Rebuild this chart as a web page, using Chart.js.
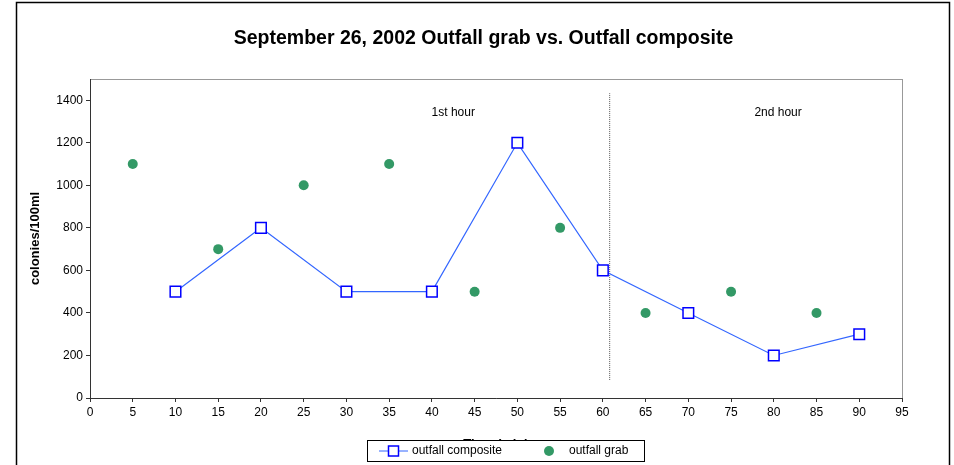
<!DOCTYPE html>
<html>
<head>
<meta charset="utf-8">
<script src="https://cdn.jsdelivr.net/npm/chart.js@4.4.1/dist/chart.umd.min.js"></script>
<style>
  html, body { margin: 0; padding: 0; background: #fff; }
  #wrap { width: 954px; height: 465px; }
</style>
</head>
<body>
<div id="wrap"><canvas id="chart" width="954" height="465"></canvas></div>
<script>
// data
const compositeMinutes = [10, 20, 30, 40, 50, 60, 70, 80, 90];
const compositeValues = [500, 800, 500, 500, 1200, 600, 400, 200, 300];
const grabMinutes = [5, 15, 25, 35, 45, 55, 65, 75, 85];
const grabValues = [1100, 700, 1000, 1100, 500, 800, 400, 500, 400];

// dotted divider between the two hours
const dividerX = [60.8, 60.8];
const dividerY = [85, 1433];

const hourLabels = ['1st hour', '2nd hour'];
const hourLabelX = [42.5, 80.5];
const hourLabelY = [1340, 1340];

const xTickStep = 5;
const yTickStep = 200;
const yTickMax = 1400;

const FONT = "'Liberation Sans', Arial, sans-serif";

function toPoints(xs, ys) {
    return xs.map((x, i) => ({ x: x, y: ys[i] }));
}

// title, outer frame, plot frame, hour labels and the boxed legend
const decorPlugin = {
    id: 'decor',
    beforeDraw(chart) {
        const { ctx, chartArea: a } = chart;
        ctx.save();
        ctx.fillStyle = '#fff';
        ctx.fillRect(0, 0, chart.width, chart.height);
        ctx.strokeStyle = '#000';
        ctx.lineWidth = 1.5;
        ctx.strokeRect(16.5, 2.5, 933, 480);
        ctx.strokeStyle = '#999';
        ctx.lineWidth = 1;
        ctx.strokeRect(Math.round(a.left) + 0.5, Math.round(a.top) + 0.5, Math.round(a.right - a.left), Math.round(a.bottom - a.top));
        ctx.restore();
    },
    afterDraw(chart) {
        const { ctx } = chart;
        const xs = chart.scales.x, ys = chart.scales.y;
        ctx.save();
        ctx.fillStyle = '#000';
        ctx.textAlign = 'center';
        ctx.textBaseline = 'middle';
        ctx.font = 'bold 19.5px ' + FONT;
        ctx.fillText('September 26, 2002 Outfall grab vs. Outfall composite', 483.5, 39);

        ctx.font = '12px ' + FONT;
        hourLabels.forEach((t, i) => {
            ctx.fillText(t, xs.getPixelForValue(hourLabelX[i]), ys.getPixelForValue(hourLabelY[i]));
        });

        // legend box, drawn over the x axis title like the original
        const lx = 367, ly = 440, lw = 277, lh = 21;
        ctx.fillStyle = '#fff';
        ctx.fillRect(lx, ly, lw, lh);
        ctx.strokeStyle = '#000';
        ctx.lineWidth = 1;
        ctx.strokeRect(lx + 0.5, ly + 0.5, lw, lh);
        const cy = ly + lh / 2 + 0.5;
        ctx.strokeStyle = '#3366ff';
        ctx.beginPath();
        ctx.moveTo(379, cy);
        ctx.lineTo(408, cy);
        ctx.stroke();
        ctx.fillStyle = '#fff';
        ctx.strokeStyle = '#0000ff';
        ctx.lineWidth = 1.5;
        ctx.fillRect(388.5, cy - 5, 10, 10);
        ctx.strokeRect(388.5, cy - 5, 10, 10);
        ctx.fillStyle = '#339966';
        ctx.beginPath();
        ctx.arc(549, cy, 5, 0, Math.PI * 2);
        ctx.fill();
        ctx.fillStyle = '#000';
        ctx.textAlign = 'left';
        ctx.font = '12px ' + FONT;
        ctx.fillText('outfall composite', 412, cy);
        ctx.fillText('outfall grab', 569, cy);
        ctx.restore();
    }
};

new Chart(document.getElementById('chart'), {
    type: 'scatter',
    data: {
        datasets: [
            {
                label: 'outfall composite',
                data: toPoints(compositeMinutes, compositeValues),
                showLine: true,
                borderColor: '#3366ff',
                borderWidth: 1.2,
                pointStyle: 'rect',
                pointRadius: 7.5,
                pointBorderColor: '#0000ff',
                pointBackgroundColor: '#ffffff',
                pointBorderWidth: 1.5,
                order: 1
            },
            {
                label: 'outfall grab',
                data: toPoints(grabMinutes, grabValues),
                showLine: false,
                pointStyle: 'circle',
                pointRadius: 5,
                pointBorderWidth: 0,
                pointBackgroundColor: '#339966',
                order: 0
            },
            {
                label: 'divider',
                data: toPoints(dividerX, dividerY),
                showLine: true,
                borderColor: '#555',
                borderWidth: 1,
                borderDash: [1, 1],
                pointRadius: 0,
                order: 2
            }
        ]
    },
    options: {
        responsive: false,
        animation: false,
        layout: { padding: { left: 16, right: 52, top: 79, bottom: 0 } },
        plugins: {
            legend: { display: false },
            title: { display: false },
            tooltip: { enabled: false }
        },
        scales: {
            x: {
                type: 'linear',
                min: 0,
                max: 95,
                afterFit: s => { s.height = 67; },
                ticks: { stepSize: xTickStep, color: '#000', font: { family: FONT, size: 12 }, padding: 3, maxRotation: 0, callback: v => String(v) },
                grid: { drawOnChartArea: false, drawTicks: true, tickLength: 4, color: '#333' },
                border: { display: true, color: '#333', width: 1 },
                title: { display: true, text: 'Time (min)', color: '#000', font: { family: FONT, size: 13, weight: 'bold' }, padding: { top: 0, bottom: 13 } }
            },
            y: {
                type: 'linear',
                min: 0,
                max: 1500,
                afterFit: s => { s.width = 74; },
                afterBuildTicks: s => { s.ticks = s.ticks.filter(t => t.value <= yTickMax); },
                ticks: { stepSize: yTickStep, color: '#000', font: { family: FONT, size: 12 }, padding: 3, callback: v => String(v) },
                grid: { drawOnChartArea: false, drawTicks: true, tickLength: 4, color: '#333' },
                border: { display: true, color: '#333', width: 1 },
                title: { display: true, text: 'colonies/100ml', color: '#000', font: { family: FONT, size: 13, weight: 'bold' }, padding: { top: 12, bottom: 0 } }
            }
        }
    },
    plugins: [decorPlugin]
});
</script>
</body>
</html>
